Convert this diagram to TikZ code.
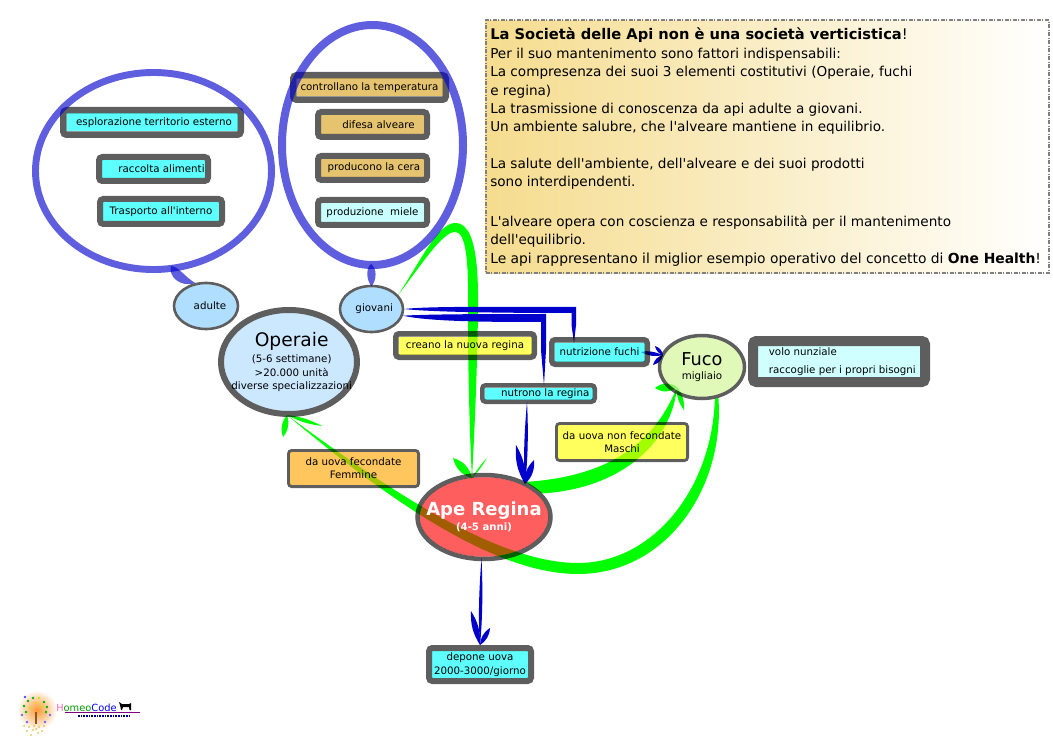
\documentclass[tikz,border=0pt]{standalone}
\usepackage{fontspec}
\setmainfont{DejaVu Sans}
\usetikzlibrary{shapes.geometric,calc}
\pgfdeclarelayer{behind}
\pgfsetlayers{behind,main}
\definecolor{gr}{HTML}{00FF00}
\definecolor{bl}{HTML}{0000CC}
\definecolor{ring}{HTML}{0000CC}
\definecolor{cy}{HTML}{00FFFF}
\definecolor{cyl}{HTML}{A8FFFF}
\definecolor{cyv}{HTML}{B4FFFF}
\definecolor{oc}{HTML}{D8A01A}
\definecolor{ye}{HTML}{FFFF00}
\definecolor{or}{HTML}{FFA500}
\definecolor{skyb}{HTML}{82CBFF}
\definecolor{opb}{HTML}{AFDBFF}
\definecolor{fu}{HTML}{CEF48F}
\definecolor{goldl}{HTML}{F5DC8E}
\definecolor{pinkh}{HTML}{FF69B4}
\newcommand\ap{\textquotesingle}
\newcommand\sz[2][10]{\fontsize{#2}{#1}\selectfont}
\tikzset{
  bxs/.style={draw=black,draw opacity=.63,text opacity=1,rectangle,rounded corners=2.5pt,inner sep=0pt,align=center,font=\sz{7.7}},
  ell/.style={draw=black,draw opacity=.63,ellipse,inner sep=0pt},
  elltext/.style={inner sep=0pt,align=center,font=\sz{7.7}},
  halo/.style={draw=ring,draw opacity=.63,ellipse,inner sep=0pt,fill=none},
  stub/.style={fill=ring,fill opacity=.63},
  gline/.style={fill=gr},
  bline/.style={fill=bl},
  note/.style={rectangle,draw=gray,line width=1.5pt,dash pattern=on 3pt off 1pt on 1pt off 1pt,left color=goldl,right color=white,inner sep=0pt}
}
% outer extents in px: [opts]{name}{x1}{y1}{x2}{y2}{lw}{fill}{text}
\newcommand\bx[8][]{%
  \pgfmathsetmacro\cx{(#3+#5)/2}\pgfmathsetmacro\cy{(#4+#6)/2}%
  \pgfmathsetmacro\ww{(#5-#3-#7)*.75}\pgfmathsetmacro\hh{(#6-#4-#7)*.75}\pgfmathsetmacro\lw{#7*.75}%
  \fill[#8,fill opacity=.63] (#3+#7,#4+#7) rectangle (#5-#7,#6-#7);%
  \node[bxs,line width=\lw pt,minimum width=\ww pt,minimum height=\hh pt,outer sep=0pt,#1] (#2) at (\cx,\cy)}
% ellipse: {name}{cx}{cy}{w}{h}{lw}{fill}{text}, sizes in px
\newcommand\el[8]{%
  \pgfmathsetmacro\ww{#4*.75}\pgfmathsetmacro\hh{#5*.75}\pgfmathsetmacro\lw{#6*.75}%
  \pgfmathsetmacro\rx{(#4-#6)*.375}\pgfmathsetmacro\ry{(#5-#6)*.375}%
  \fill[#7,fill opacity=.63] (#2,#3) ellipse [x radius=\rx pt,y radius=\ry pt];%
  \node[ell,line width=\lw pt,minimum width=\ww pt,minimum height=\hh pt] (#1) at (#2,#3) {};%
  \node[elltext] (#1t) at (#2,#3) {#8};}
\newcommand\barb[4][28]{\fill[#2] (#3) to[bend left=#1] (#4) to[bend left=#1] (#3);}
\begin{document}
\begin{tikzpicture}[x=.75pt,y=-.75pt]
\useasboundingbox (0,0) rectangle (1053,745);
\begin{pgfonlayer}{behind}
\fill[white] (0,0) rectangle (1053,745);
\end{pgfonlayer}

% text panel
\node[note,anchor=north west,minimum width=563*.75pt,minimum height=253*.75pt] (panel) at (484.5,19.5) {};
\node[anchor=north west,align=left,inner sep=0pt,font=\fontsize{10.2}{13.76}\selectfont] (paneltext) at (490,28) {%
{\fontsize{11}{13.76}\selectfont\textbf{La Società delle Api non è una società verticistica}!}\\
Per il suo mantenimento sono fattori indispensabili:\\
La compresenza dei suoi 3 elementi costitutivi (Operaie, fuchi\\
e regina)\\
La trasmissione di conoscenza da api adulte a giovani.\\
Un ambiente salubre, che l\ap alveare mantiene in equilibrio.\\[13.76pt]
La salute dell\ap ambiente, dell\ap alveare e dei suoi prodotti\\
sono interdipendenti.\\[16pt]
L\ap alveare opera con coscienza e responsabilità per il mantenimento\\
dell\ap equilibrio.\\
{\fontsize{10.4}{13.76}\selectfont Le api rappresentano il miglior esempio operativo del concetto di \textbf{One Health}!}};

% main nodes
\el{ope}{289}{362}{136}{104}{6}{opb}{\hspace*{4pt}{\sz[14]{14}Operaie}\\[2pt]\hspace*{4pt}(5-6 settimane)\\\hspace*{4pt}>20.000 unità\\\hspace*{4pt}diverse specializzazioni}
\el{ape}{484}{517}{133}{84}{4.5}{red}{{\color{white}\sz[14]{13.5}\bfseries Ape Regina}\\[1pt]{\color{white}\sz[8]{7.6}\bfseries (4-5 anni)}}
\el{fuco}{702}{367}{85}{63}{3.5}{fu}{{\sz[15]{13.3}Fuco}\\{\sz[9]{7.7}migliaio}}
\el{adu}{206}{306}{64}{46}{2.6}{skyb}{\hspace*{6pt}adulte}
\el{gio}{371.5}{309}{63}{46}{2.6}{skyb}{\hspace*{4pt}giovani}

% boxes
\bx{esp}{60}{107}{244}{138}{6.5}{cy}{\hspace*{3pt}esplorazione territorio esterno};
\bx{rac}{96}{154}{211}{184}{6}{cy}{\hspace*{12pt}raccolta alimenti};
\bx{tra}{97}{196}{225}{227}{6}{cy}{Trasporto all\ap interno};
\bx{con}{290}{72}{449}{103}{6.5}{oc}{controllano la temperatura};
\bx{dif}{315}{109}{430}{140}{6}{oc}{\hspace*{9pt}difesa alveare};
\bx{pro}{315}{153}{430}{183}{6}{oc}{\hspace*{2pt}producono la cera};
\bx{mie}{315}{197}{430}{228}{6}{cyl}{produzione\ \ miele};
\bx{cre}{393}{331}{537}{360}{5.5}{ye}{creano la nuova regina};
\bx{nfu}{549}{337}{650}{367}{5.5}{cy}{nutrizione fuchi};
\bx{nre}{480}{383}{597}{404}{4.5}{cy}{\hspace*{10pt}nutrono la regina};
\bx[align=left]{vol}{748}{336}{930}{387}{10}{cyv}{\hspace*{5pt}volo nunziale\\[3.5pt]\hspace*{5pt}raccoglie per i propri bisogni};
\bx{mas}{555}{422}{689}{462}{2.8}{ye}{da uova non fecondate\\Maschi};
\bx{fem}{287}{449}{420}{488}{2.8}{or}{da uova fecondate\\Femmine};
\bx{dep}{426}{645}{534}{684}{6}{cy}{depone uova\\2000-3000/giorno};

% halos
\node[halo,line width=5.2pt,minimum width=236*.75pt,minimum height=197*.75pt] (hl) at (153.5,171) {};
\node[halo,line width=6pt,minimum width=181*.75pt,minimum height=240*.75pt] (hr) at (372.5,145) {};
\coordinate (hlb) at (171,266);
\coordinate (hrb) at (371,264);
\fill[stub] (hlb) .. controls (178,266) and (186,278) .. (adu.115) .. controls (180,288) and (168,276) .. (hlb);
\fill[stub] (hrb) .. controls (377,268) and (377,280) .. (371.5,286) .. controls (366,280) and (366,268) .. (hrb);

\begin{pgfonlayer}{behind}
% green: giovani -> Ape Regina
\coordinate (t1) at (472,478);
\coordinate (t1a) at (453,458);
\coordinate (t1b) at (487,458);
\fill[gline] (gio.28) .. controls (420,262) and (438,223) .. (455,223) .. controls (472,223) and (479,250) .. (478,313) .. controls (477,380) and (474,440) .. (t1) .. controls (470,440) and (468,380) .. (468,313) .. controls (469,255) and (465,232) .. (455,232) .. controls (442,232) and (420,267) .. (gio.28);
\barb[30]{gr}{t1}{t1a}
\barb[6]{gr}{t1}{t1b}
% green: Ape Regina -> Fuco
\coordinate (t2) at (677,387);
\coordinate (t2a) at (655,388);
\coordinate (t2b) at (684,410);
\fill[gline] (ape.40) .. controls (600,477) and (652,450) .. (t2) .. controls (672,440) and (625,488) .. (ape.22) -- cycle;
\barb[37]{gr}{t2}{t2a}
\barb[20]{gr}{t2}{t2b}
% green: Fuco -> Operaie
\coordinate (t3) at (287,415);
\coordinate (t3a) at (283,437);
\coordinate (t3b) at (322,426);
\fill[gline] (fuco.-62) .. controls (725,490) and (665,574) .. (578,574) .. controls (500,574) and (400,510) .. (t3) .. controls (395,495) and (500,563) .. (578,563) .. controls (652,563) and (712,490) .. (fuco.-68) -- cycle;
\barb[28]{gr}{t3}{t3a}
\barb[10]{gr}{t3}{t3b}
% blue: giovani -> nutrizione fuchi
\fill[bline] (gio.east) .. controls (430,306) and (500,307) .. (576,307) -- (576,325) -- (574,343) -- (571.5,325) -- (571.5,313) .. controls (500,313) and (430,312) .. (gio.east);
% blue: giovani -> nutrono la regina
\fill[bline] (gio.-12) .. controls (430,314) and (500,314) .. (546,314) -- (546,350) -- (544,385) -- (541,350) -- (541,322) .. controls (500,322) and (430,322) .. (gio.-12);
% blue: nutrizione fuchi -> Fuco
\coordinate (t4) at (663,355);
\coordinate (t4a) at (655,346);
\coordinate (t4b) at (653,365);
\coordinate (s4) at (641,352);
\fill[bline] (s4) .. controls (648,350) and (655,352) .. (t4) .. controls (655,357) and (648,356) .. (s4);
\barb[30]{bl}{t4}{t4a}
\barb[30]{bl}{t4}{t4b}
% blue: nutrono la regina -> Ape Regina
\coordinate (t5) at (525,484);
\coordinate (t5a) at (516,445);
\coordinate (t5b) at (534,460);
\coordinate (s5) at (527,402);
\fill[bline] (s5) .. controls (528.5,430) and (528,460) .. (t5) .. controls (523,460) and (524.5,430) .. (s5);
\barb[17]{bl}{t5}{t5a}
\barb[25]{bl}{t5}{t5b}
% blue: Ape Regina -> depone uova
\coordinate (t6) at (480,645);
\coordinate (t6a) at (471,611);
\coordinate (t6b) at (490,628);
\coordinate (s6) at (481.5,558);
\fill[bline] (s6) .. controls (483,590) and (482.5,620) .. (t6) .. controls (478,620) and (479,590) .. (s6);
\barb[17]{bl}{t6}{t6a}
\barb[26]{bl}{t6}{t6b}
\end{pgfonlayer}

% logo
\shade[inner color=orange!80,outer color=white] (37,710) circle (20*.75pt);
\draw[brown!70!black,line width=1.6pt] (36,724) -- (36,712);
\foreach \px/\py/\pc in {24/706/green!70!black,28/701/green!70!black,33/698/green!70!black,39/698/yellow!80!green,44/702/green!70!black,47/707/green!70!black,42/706/yellow!80!green,30/708/yellow!80!green,26/712/green!70!black,46/712/green!70!black,36/703/yellow!70!orange,25/697/blue!70,50/715/blue!60,22/715/blue!60,45/722/blue!60,27/722/blue!60}
  \fill[\pc] (\px,\py) circle (1.1pt);
\foreach \px/\py in {24/726,29/727,34/726,39/727,44/726,27/731,33/730,38/733,42/731,36/729,31/735}
  \fill[brown!60!yellow] (\px,\py) circle (.7pt);
\node[anchor=west,inner sep=0pt,font=\sz{7.4}] (logotext) at (56,708) {\textcolor{pinkh}{H}\textcolor{green!60!black}{omeo}\textcolor{blue}{Code}};
\draw[violet,line width=.7pt] (65,712.5) -- (140,712.5);
\fill[black] (120,705) -- (119,702) -- (122,704) -- (129,704) -- (131,703) -- (131,710) -- (129.5,710) -- (129,707) -- (123,707) -- (122,710) -- (121,710) -- cycle;
\draw[blue!50!black,line width=1pt,dash pattern=on 1.2pt off .8pt] (78,716) -- (130,716);
\end{tikzpicture}
\end{document}
